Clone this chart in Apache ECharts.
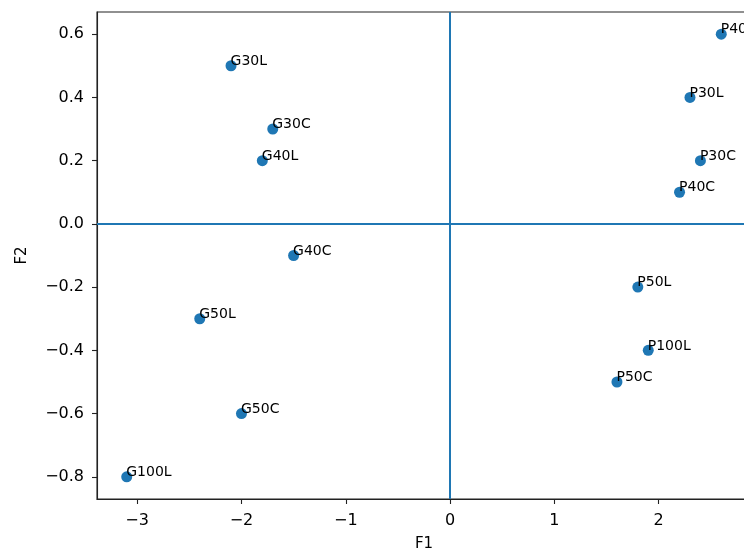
<!DOCTYPE html>
<html>
<head>
<meta charset="utf-8">
<script src="https://cdn.jsdelivr.net/npm/echarts@6/dist/echarts.min.js"></script>
<style>html,body{margin:0;padding:0;background:#fff}#c{width:744px;height:552px}</style>
</head>
<body>
<div id="c"></div>
<script>
const names = ['G30L','G30C','G40L','G40C','G50L','G50C','G100L','P40L','P30L','P30C','P40C','P50L','P100L','P50C'];
const f1 = [-2.1,-1.7,-1.8,-1.5,-2.4,-2.0,-3.1,2.6,2.3,2.4,2.2,1.8,1.9,1.6];
const f2 = [0.5,0.3,0.2,-0.1,-0.3,-0.6,-0.8,0.6,0.4,0.2,0.1,-0.2,-0.4,-0.5];
const xTicks = [-3,-2,-1,0,1,2];
const yTicks = [-0.8,-0.6,-0.4,-0.2,0.0,0.2,0.4,0.6];
const xRange = [-3.385, 2.885];
const yRange = [-0.87, 0.67];

const font = 'DejaVu Sans';
const minus = s => s.replace('-', '\u2212');
const chart = echarts.init(document.getElementById('c'), null, {renderer: 'canvas'});
chart.setOption({
  animation: false,
  backgroundColor: '#fff',
  grid: {left: 97, top: 12, width: 654, height: 487, outerBoundsMode: 'none', containLabel: false,
         show: true, borderColor: '#222', borderWidth: 1.1, backgroundColor: 'transparent'},
  xAxis: {
    type: 'value', min: xRange[0], max: xRange[1],
    name: 'F1', nameLocation: 'middle', nameGap: 38,
    nameTextStyle: {fontFamily: font, fontSize: 15, color: '#000'},
    axisLine: {show: true, onZero: false, lineStyle: {color: '#222', width: 1.1}},
    axisTick: {show: true, length: 5, lineStyle: {color: '#222', width: 1.1}, customValues: xTicks},
    axisLabel: {fontFamily: font, fontSize: 16, color: '#000', margin: 14, customValues: xTicks, formatter: v => minus(String(v))},
    splitLine: {show: false}
  },
  yAxis: {
    type: 'value', min: yRange[0], max: yRange[1],
    name: 'F2', nameLocation: 'middle', nameGap: 67,
    nameTextStyle: {fontFamily: font, fontSize: 15, color: '#000'},
    axisLine: {show: true, onZero: false, lineStyle: {color: '#222', width: 1.1}},
    axisTick: {show: true, length: 5, lineStyle: {color: '#222', width: 1.1}, customValues: yTicks},
    axisLabel: {fontFamily: font, fontSize: 16, color: '#000', margin: 13, customValues: yTicks, formatter: v => minus(v.toFixed(1))},
    splitLine: {show: false}
  },
  series: [{
    type: 'scatter',
    symbolSize: 11,
    itemStyle: {color: '#1f77b4', opacity: 1},
    data: names.map((n, i) => ({name: n, value: [f1[i], f2[i]]})),
    label: {
      show: true, formatter: p => p.name, position: [5, 8], align: 'left', verticalAlign: 'bottom',
      fontFamily: font, fontSize: 14, color: '#000'
    },
    markLine: {
      silent: true, symbol: ['none', 'none'], label: {show: false},
      lineStyle: {color: '#1f77b4', width: 2, type: 'solid'},
      data: [{xAxis: 0}, {yAxis: 0}],
      animation: false
    },
    z: 3
  }]
});
</script>
</body>
</html>
